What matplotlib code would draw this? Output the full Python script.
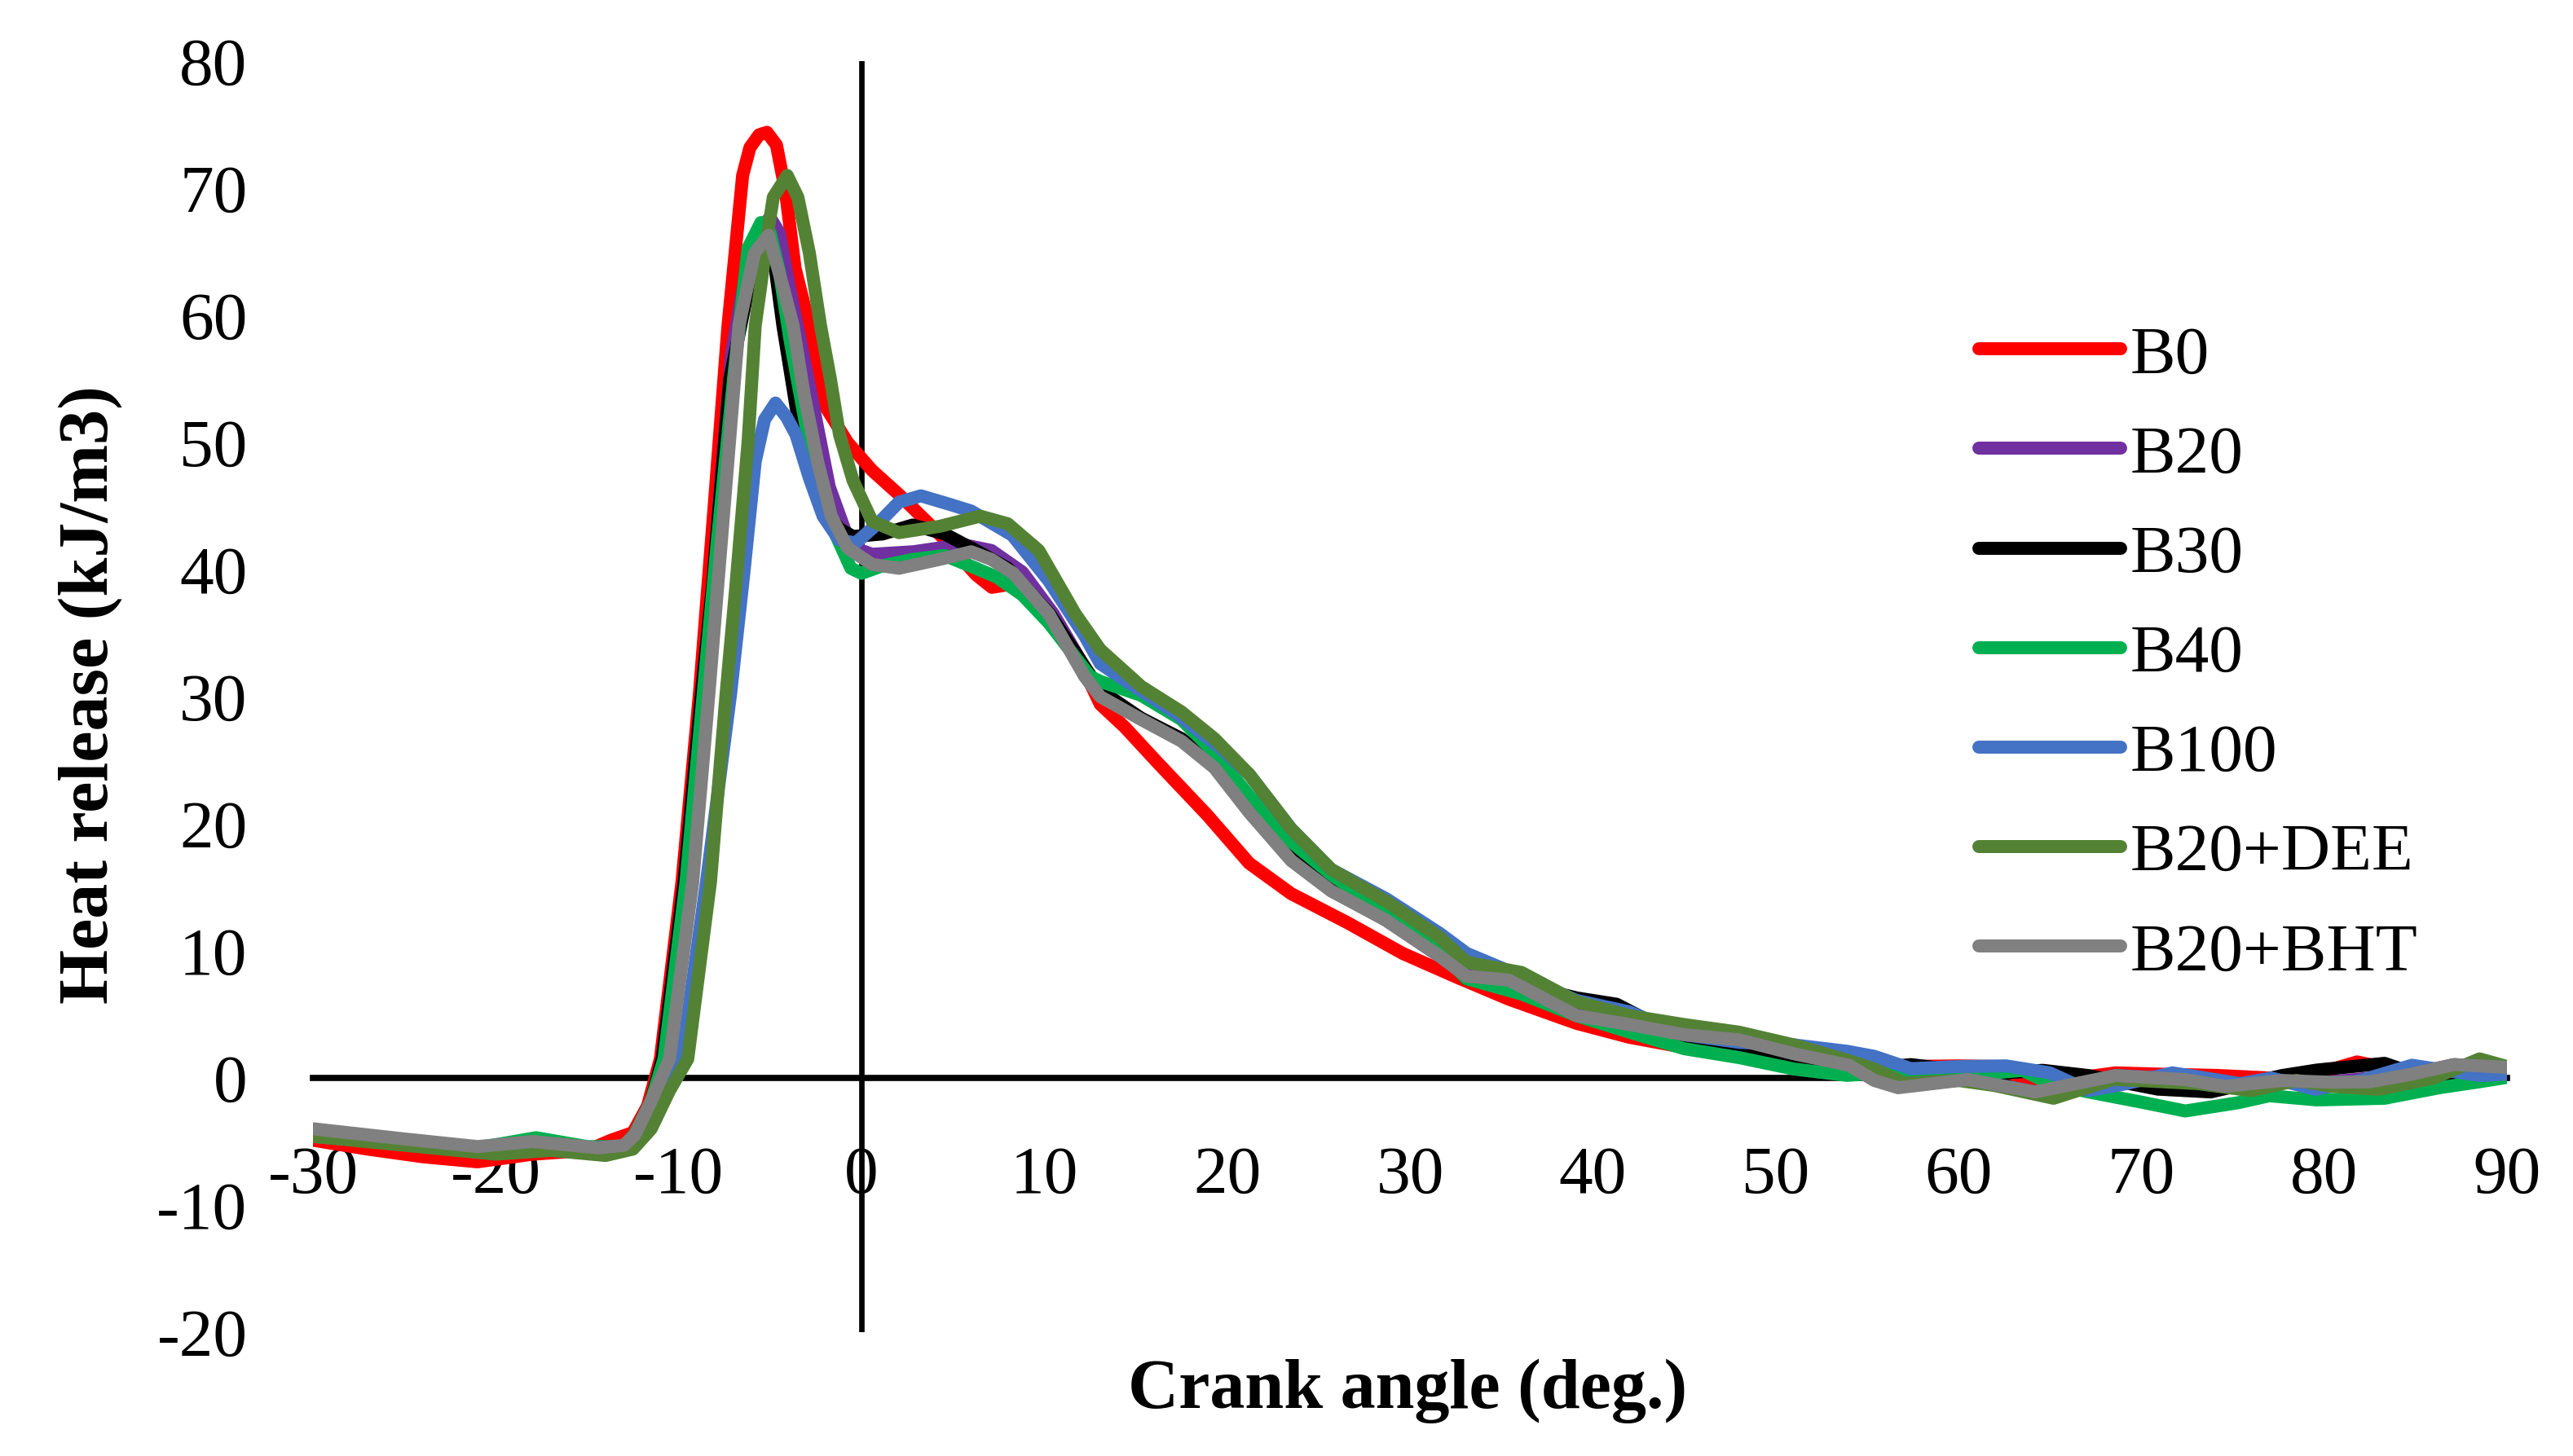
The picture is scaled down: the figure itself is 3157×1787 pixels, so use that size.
import matplotlib
matplotlib.use("Agg")
import matplotlib.pyplot as plt

# ---------------- data ----------------
labels = ["B0", "B20", "B30", "B40", "B100", "B20+DEE", "B20+BHT"]
colors = ["#FF0000", "#7030A0", "#000000", "#00B050", "#4472C4", "#548235", "#808080"]

b0_x = [-30, -27, -24, -21, -18, -15, -13.7, -12.5, -11.7, -11.0, -9.82, -8.86, -8.04, -7.3, -6.5, -6.1, -5.6, -5.17, -4.65,
        -4.15, -3.63, -2.85, -1.96, -0.76, 0.58, 2.05, 3.55, 4.59, 6.26, 7.13, 8.0, 9.1, 10.3, 11.7, 13.06, 14.4, 16.2, 18.9, 21.2,
        23.5, 26.6, 29.6, 32.6, 35.4, 39.1, 42.0, 45.0, 48.0, 51, 54, 57, 60.0, 62, 64.4, 66.5, 68.6, 71, 74.1, 77,
        79.5, 81.8, 84, 87, 90]
b0_y = [-4.9, -5.6, -6.2, -6.6, -6.0, -5.7, -4.9, -4.3, -2.2, 1.5, 15.4, 30.3, 45.3, 59.2, 71, 73.2, 74.2, 74.4, 73.4,
        69.7, 63.7, 59.2, 52.8, 50.0, 47.8, 45.9, 43.8, 42.3, 39.6, 38.6, 38.8, 39.1, 36.5, 33.5, 29.4, 27.6, 24.8, 20.7, 16.9,
        14.5, 12.2, 9.8, 7.9, 6.2, 4.3, 3.2, 2.4, 2.3, 1.3, 0.9, 0.9, 0.95, 0.9, -0.55, 0.0, 0.4, 0.3, 0.2, 0.0,
        0.3, 1.26, 0.6, 0.5, 0.4]

b20_x = [-30, -25, -21, -18, -15, -13, -12.4, -11.5, -10.7, -9.4, -8.5, -7.8, -7.1, -6.3, -5.6, -5.0, -4.5, -3.97, -2.94, -1.76,
         -0.58, 0.58, 2.85, 4.28, 5.4, 7.1, 8.8, 10.5, 13.06, 15.3, 17.5, 19.3, 21.2, 23.5, 25.7, 28.7, 31.6, 35.4, 39.1, 42,
         45, 48, 51, 54, 56.7, 60.5, 64.2, 68.6, 72.4, 74.6, 77.7, 80.4, 84.8, 87.1, 90]
b20_y = [-4.3, -5.0, -5.6, -5.2, -5.6, -5.4, -4.5, -1.8, 1.5, 15.4, 30.3, 45, 57, 63.5, 66.7, 67.7, 66.5, 62.4, 55.1, 46.5,
         41.8, 41.2, 41.4, 41.7, 42.0, 41.5, 39.8, 36.5, 30.2, 28.3, 26.6, 24.5, 21.0, 17.2, 14.8, 12.4, 9.6, 7.7, 5.0, 4.2,
         3.4, 3.0, 1.9, 0.9, -0.7, -0.1, -1.1, 0.2, -0.1, -0.6, -0.2, -0.3, 0.3, 1.05, 0.8]

b30_x = [-30, -25, -21, -18, -15, -13, -12.4, -11.5, -10.9, -9.7, -8.75, -8.15, -7.2, -6.2, -5.6, -5.1, -4.7, -4.3, -3.58, -3.0,
         -2.27, -1.2, -0.46, 1.16, 2.8, 4.55, 6.26, 8.0, 10.3, 13.06, 15.3, 17.5, 19.3, 21.2, 23.5, 25.7, 28.7, 31.6, 33.1, 35.4,
         39.1, 41.3, 44, 46.5, 48.5, 51, 54, 57.4, 60, 62.6, 64.6, 67.1, 70.9, 73.8, 77.7, 79.6, 83.3, 86.3, 88.5, 90]
b30_y = [-4.4, -5.1, -5.8, -5.3, -5.6, -5.5, -4.5, -1.8, 1.5, 15.4, 30.3, 38.7, 55, 62, 63.5, 65, 63.5, 59.2, 52.8, 48.5,
         45.2, 43.2, 42.6, 42.8, 43.5, 42.8, 41.5, 40.1, 36.5, 30.5, 28.3, 26.7, 24.6, 21.2, 17.6, 15.3, 13.0, 10.2, 7.8, 7.6,
         6.3, 5.8, 3.8, 2.5, 2.0, 0.9, 0.6, 1.05, 0.6, 0.4, 0.6, 0.19, -0.88, -1.1, 0.19, 0.62, 1.15, -0.3, -0.2, 0.5]

b40_x = [-30, -25, -21, -17.8, -15, -13, -12.4, -11.5, -10.8, -9.6, -8.65, -7.9, -7.0, -6.2, -5.5, -5.0, -4.5, -3.9, -3.0, -2.2,
         -1.43, -0.58, 0.0, 1.16, 2.8, 4.55, 6.26, 7.4, 8.8, 10.25, 12.5, 13.06, 15.3, 17.5, 19.3, 21.2, 23.5, 25.7, 28.7, 31.6,
         33.1, 36.1, 39.1, 42, 45, 48, 51, 53.9, 55.9, 58.5, 61.2, 63.5, 65.0, 67.1, 70, 72.4, 75.3, 77, 79.6, 83.3,
         86.3, 88.5, 90.2]
b40_y = [-4.5, -5.0, -5.5, -4.7, -5.4, -5.4, -4.4, -1.8, 1.5, 15.4, 30.3, 42, 55, 65.3, 67.3, 66.5, 63.5, 58, 51, 46,
         42.8, 40.1, 39.7, 40.3, 40.8, 41.1, 40.1, 39.4, 38.0, 35.8, 31.6, 31.2, 30.1, 28.2, 25.6, 22.2, 18.6, 16.0, 13.0, 10.0,
         7.8, 6.6, 4.9, 3.6, 2.3, 1.6, 0.7, 0.2, 0.4, 0.4, 0.3, 0.6, -0.45, -1.1, -1.9, -2.6, -1.95, -1.4, -1.73, -1.6,
         -0.77, -0.3, 0.09]

b100_x = [-30, -25, -21, -18, -15, -13, -12, -11.2, -9.82, -8.48, -7.15, -6.42, -5.81, -5.3, -4.7, -4.1, -3.58, -2.85, -2.1, -1.2,
          -0.31, 1.03, 2.05, 3.25, 4.89, 6.0, 8.25, 10.25, 12.2, 13.06, 14.5, 17.3, 19.6, 21.2, 23.5, 25.7, 28.7, 31.6, 33.1, 36.1,
          39.1, 42, 45, 48, 51, 53.9, 55.4, 57.4, 60, 62.6, 65, 67.1, 69, 71.7, 73.5, 75.4, 77.1, 79.5, 82, 84.8,
          88.5, 90]
b100_y = [-4.6, -5.2, -5.8, -5.3, -5.5, -5.4, -4.7, -2.5, 1.5, 15.4, 30.3, 39.9, 48.5, 51.8, 53.1, 52.0, 50.6, 47.2, 44.2, 42.3,
          42.1, 43.8, 45.3, 45.8, 45.1, 44.6, 42.7, 39.1, 34.8, 32.6, 31.2, 28.6, 26.0, 23.9, 19.6, 16.4, 14.1, 11.4, 9.8, 8.0,
          6.1, 5.2, 3.4, 2.8, 2.6, 2.1, 1.7, 0.73, 0.9, 0.95, 0.4, -0.99, -0.5, 0.4, 0.0, -0.45, 0.0, -0.9, -0.2, 1.0,
          0.19, 0.3]

dee_x = [-30, -25, -20, -17, -14, -12.5, -11.5, -10.5, -9.5, -8.26, -7.4, -6.87, -6.2, -5.81, -5.5, -5.17, -4.82, -4.06, -3.48, -2.85,
         -2.24, -1.7, -1.2, -0.46, 0.58, 2.05, 4.28, 6.5, 8.0, 9.7, 11.7, 13.06, 15.3, 17.5, 19.3, 21.2, 23.5, 25.7, 28.7, 31.6,
         33.1, 36.1, 39.1, 42, 45, 48, 51, 53.9, 55.4, 57, 60, 62, 65.2, 68.5, 73.1, 76, 78.5, 80.4, 83, 86,
         88.5, 90]
dee_y = [-4.6, -5.3, -6.0, -5.7, -6.1, -5.6, -4.0, -1.0, 1.5, 15.4, 30.3, 38.7, 50.1, 59.2, 62.4, 66.1, 69.3, 71.0, 69.3, 64.9,
         59.2, 55.0, 50.6, 47.0, 43.8, 42.9, 43.4, 44.2, 43.6, 41.5, 36.5, 33.7, 30.8, 28.8, 26.7, 23.9, 19.6, 16.4, 13.9, 11.1,
         9.1, 8.3, 6.0, 4.9, 4.2, 3.6, 2.6, 1.4, 0.7, -0.4, -0.2, -0.6, -1.6, -0.1, -0.45, -1.0, -0.2, -0.66, -0.9, 0.0,
         1.5, 0.9]

bht_x = [-30, -25, -21, -18, -14.4, -13, -12.4, -11.5, -10.5, -9.23, -8.34, -6.7, -5.85, -5.08, -4.32, -3.74, -3.14, -2.4, -1.65, -0.76,
         0.58, 2.05, 4.28, 6.0, 7.1, 8.3, 10.25, 12.2, 13.06, 15.3, 17.5, 19.3, 21.2, 23.5, 25.7, 28.7, 31.6, 33.1, 35.4, 39.1,
         42, 45, 48, 51, 54, 55.4, 56.7, 60.5, 64.2, 68.6, 72.4, 74.6, 77.7, 80.4, 82.5, 84.8, 87.1, 90]
bht_y = [-4.0, -4.8, -5.4, -5.0, -5.5, -5.3, -4.5, -1.8, 1.5, 15.4, 30.3, 59.2, 64.9, 66.3, 62.4, 59.2, 53.8, 48.5, 44.2, 41.7,
         40.4, 40.1, 40.8, 41.4, 40.8, 39.7, 36.5, 31.6, 30.0, 28.2, 26.5, 24.4, 20.9, 17.1, 14.7, 12.4, 9.6, 8.0, 7.7, 4.9,
         4.2, 3.4, 3.0, 1.9, 1.0, -0.2, -0.77, -0.12, -1.1, 0.19, -0.13, -0.66, -0.2, -0.34, -0.3, 0.3, 1.05, 0.83]

x_ticks = [-30, -20, -10, 0, 10, 20, 30, 40, 50, 60, 70, 80, 90]
y_ticks = [-20, -10, 0, 10, 20, 30, 40, 50, 60, 70, 80]
x_label = "Crank angle (deg.)"
y_label = "Heat release (kJ/m3)"

series_x = [b0_x, b20_x, b30_x, b40_x, b100_x, dee_x, bht_x]
series_y = [b0_y, b20_y, b30_y, b40_y, b100_y, dee_y, bht_y]

# ---------------- figure ----------------
FONT = ["Liberation Serif", "DejaVu Serif"]
plt.rcParams["font.family"] = FONT

W, H = 3157, 1787
fig = plt.figure(figsize=(W / 100, H / 100), dpi=100)
ax = fig.add_axes([384 / W, 1 - 1635 / H, (3076 - 384) / W, (1635 - 75) / H])

LW = 11.5
for xs, ys, c, lab in zip(series_x, series_y, colors, labels):
    ax.plot(xs, ys, color=c, lw=LW, label=lab, zorder=3,
            solid_capstyle="round", solid_joinstyle="round")

ax.set_xlim(-30, 90)
ax.set_ylim(-20, 80)

for s in ["top", "right", "left"]:
    ax.spines[s].set_visible(False)
ax.spines["bottom"].set_position(("data", 0))
ax.spines["bottom"].set_linewidth(5.5)
ax.spines["bottom"].set_zorder(2)
ax.axvline(0, color="black", lw=4.8, zorder=2)

ax.set_xticks(x_ticks)
ax.set_yticks(y_ticks)
ax.set_xticklabels([str(v) for v in x_ticks])
ax.set_yticklabels([str(v) for v in y_ticks])
ax.tick_params(axis="x", length=0, pad=60, labelsize=60)
ax.tick_params(axis="y", length=0, pad=58, labelsize=60)

leg = ax.legend(loc="upper left", bbox_to_anchor=(2428 / W, 1 - 399 / H),
                bbox_transform=fig.transFigure, frameon=False,
                fontsize=60, handlelength=2.09, handletextpad=0.14,
                labelspacing=0.55, borderpad=0, borderaxespad=0)
for line in leg.get_lines():
    line.set_linewidth(LW)
    line.set_solid_capstyle("round")

fig.text(1727 / W, 1 - 1707 / H, x_label, ha="center", va="center",
         fontsize=62, fontweight="bold")
fig.text(111 / W, 1 - 853 / H, y_label, ha="center", va="center",
         fontsize=62, fontweight="bold", rotation=90)

fig.savefig("out.png", dpi=100)
